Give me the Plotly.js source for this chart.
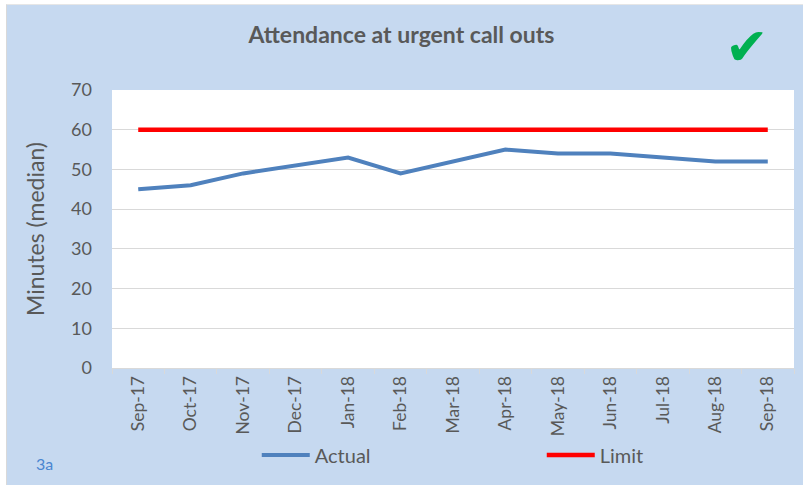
<!DOCTYPE html>
<html>
<head>
<meta charset="utf-8">
<script src="https://cdn.plot.ly/plotly-3.0.1.min.js"></script>
<style>
  html, body { margin: 0; padding: 0; background: #ffffff; }
  #chart { position: absolute; left: 6px; top: 4px; width: 797px; height: 481px; border-left: 1px solid #d9d9d9; border-top: 1px solid #e6e6e6; }
</style>
</head>
<body>
<div id="chart"></div>
<script>
const months = ["Sep-17","Oct-17","Nov-17","Dec-17","Jan-18","Feb-18","Mar-18","Apr-18","May-18","Jun-18","Jul-18","Aug-18","Sep-18"];
const actual = [45, 46, 49, 51, 53, 49, 52, 55, 54, 54, 53, 52, 52];
const limit  = [60, 60, 60, 60, 60, 60, 60, 60, 60, 60, 60, 60, 60];
const yTicks = [0, 10, 20, 30, 40, 50, 60, 70];

const fontFam = "Lato, 'Open Sans', sans-serif";
const grey = "#595959";

const traces = [
  { x: months, y: actual, name: "Actual", type: "scatter", mode: "lines",
    line: { color: "#4F81BD", width: 4 } },
  { x: months, y: limit, name: "Limit", type: "scatter", mode: "lines",
    line: { color: "#FF0000", width: 4.5 } }
];

// plot area: page x 112..794, y 89..367 ; div offset (7,4)
const W = 796, H = 481, ML = 105, MR = 9, MT = 85, MB = 118;
const PW = W - ML - MR, PH = H - MT - MB;
const px = (pageX) => (pageX - 7 - ML) / PW;
const py = (pageY) => 1 - (pageY - 4 - MT) / PH;

const layout = {
  width: W, height: H,
  paper_bgcolor: "#C6D9F0",
  plot_bgcolor: "#FFFFFF",
  margin: { l: ML, r: MR, t: MT, b: MB },
  font: { family: fontFam, color: grey },
  title: { text: "<b>Attendance at urgent call outs</b>", font: { size: 23, color: grey, family: fontFam },
           x: (401.5 - 7) / W, xref: "container", y: 1 - 30 / H, yref: "container", xanchor: "center", yanchor: "middle" },
  showlegend: true,
  legend: { orientation: "h", x: 0.31 + 3 / W, xref: "container", y: 1 - 450 / H, yref: "container", yanchor: "middle", xanchor: "left",
            font: { size: 20, color: grey, family: fontFam }, entrywidth: 222, entrywidthmode: "pixels",
            itemwidth: 48, bgcolor: "rgba(0,0,0,0)" },
  xaxis: { type: "category", range: [-0.5, 12.5], tickangle: -90, tickfont: { size: 17.5, color: grey },
           showgrid: false, showline: true, linecolor: "#D9D9D9", linewidth: 1,
           ticks: "outside", tickson: "boundaries", ticklen: 5, tickcolor: "#D9D9D9",
           zeroline: false, fixedrange: true },
  yaxis: { range: [0, 70], tickvals: yTicks, ticktext: yTicks.map(String),
           tickfont: { size: 18, color: grey }, showgrid: true, gridcolor: "#D9D9D9", gridwidth: 1,
           zeroline: false, showline: false, ticklabelstandoff: 19,
           title: { text: "Minutes (median)", font: { size: 23, color: grey }, standoff: 20 } },
  annotations: [
    { text: "✔", xref: "paper", yref: "paper", x: px(747), y: py(46), xanchor: "center", yanchor: "middle",
      showarrow: false, font: { size: 52, color: "#00B050", family: "DejaVu Sans" } },
    { text: "3a", xref: "paper", yref: "paper", x: px(44), y: py(462), xanchor: "center", yanchor: "middle",
      showarrow: false, font: { size: 16, color: "#4A86D0", family: fontFam } }
  ]
};

Plotly.newPlot("chart", traces, layout, { displayModeBar: false, staticPlot: true });
</script>
</body>
</html>
